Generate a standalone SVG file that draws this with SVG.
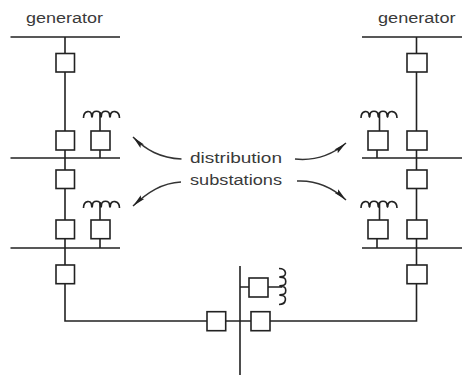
<svg xmlns="http://www.w3.org/2000/svg" width="462" height="375" viewBox="0 0 462 375">
<style>
.l{fill:none;stroke:#222;stroke-width:1.6}
.b{fill:#fff;stroke:#222;stroke-width:1.6}
.c{fill:none;stroke:#222;stroke-width:1.6}
.a{fill:none;stroke:#333;stroke-width:1.5}
text{font-family:"Liberation Sans",Arial,sans-serif;font-size:15.500px;fill:#3a3a3a;text-anchor:start}
</style>
<defs>
<marker id="h" markerUnits="userSpaceOnUse" markerWidth="15" markerHeight="10" refX="13" refY="5" orient="auto"><path d="M0 2.500L13 5L0 7.500L2 5Z" fill="#222"/></marker>
<path id="coil" d="M0 8C0 0 8 0 8 5C8 8 9 8 9 5C9 0 17 0 17 5C17 8 18 8 18 5C18 0 26 0 26 5C26 8 27 8 27 5C27 0 36 0 36 8"/>
</defs>
<g id="connectors">
<path class="l" d="M10.500 37H120M65 37V170M65 188V265M10.500 158H120M10.500 248H120M100 112V131M100 150V158M100 202V220M100 238.700V248M65 283.700V321H207M225.700 321H251M270 321H416.500V283.700M416.500 265V37M362 37H462M362 158H462M362 248H462M379.500 112V131M377 150V158M379.500 202V220M377 238.700V248M240 266V375M240 287H249M268 287H282"/>
<path class="a" marker-end="url(#h)" d="M181.500 159C160 158 146 150 133 137"/>
<path class="a" marker-end="url(#h)" d="M181 182C162 183 148 192 133 206"/>
<path class="a" marker-end="url(#h)" d="M295 159C315 161 332 155 346 143"/>
<path class="a" marker-end="url(#h)" d="M297 181C316 180 332 187 346 200"/>
</g>
<g id="gen-left"><text x="26" y="23.300" textLength="77" lengthAdjust="spacingAndGlyphs">generator</text></g>
<g id="gen-right"><text x="378" y="23.300" textLength="77.500" lengthAdjust="spacingAndGlyphs">generator</text></g>
<g id="label"><text x="190" y="163" textLength="92" lengthAdjust="spacingAndGlyphs">distribution</text><text x="190" y="185" textLength="92" lengthAdjust="spacingAndGlyphs">substations</text></g>
<g id="b1"><rect class="b" x="56" y="53.500" width="18.500" height="18.500"/></g>
<g id="b2"><rect class="b" x="56" y="131" width="18.500" height="19"/></g>
<g id="b3"><rect class="b" x="91" y="131" width="19" height="19"/></g>
<g id="b4"><rect class="b" x="56" y="170" width="18.500" height="18.500"/></g>
<g id="b5"><rect class="b" x="56" y="220" width="18.500" height="18.700"/></g>
<g id="b6"><rect class="b" x="91" y="220" width="19" height="18.700"/></g>
<g id="b7"><rect class="b" x="56" y="265" width="18.500" height="18.700"/></g>
<g id="b8"><rect class="b" x="207" y="311.700" width="18.700" height="19"/></g>
<g id="b9"><rect class="b" x="251" y="311.700" width="19" height="19"/></g>
<g id="b10"><rect class="b" x="249" y="278" width="19" height="19"/></g>
<g id="b11"><rect class="b" x="407" y="53.500" width="20" height="18.500"/></g>
<g id="b12"><rect class="b" x="407" y="131" width="20" height="19"/></g>
<g id="b13"><rect class="b" x="368" y="131" width="20" height="19"/></g>
<g id="b14"><rect class="b" x="407" y="170" width="20" height="18.500"/></g>
<g id="b15"><rect class="b" x="407" y="220" width="20" height="18.700"/></g>
<g id="b16"><rect class="b" x="368" y="220" width="20" height="18.700"/></g>
<g id="b17"><rect class="b" x="407" y="265" width="20" height="18.700"/></g>
<g id="coil1"><use href="#coil" class="c" x="83.500" y="110"/></g>
<g id="coil2"><use href="#coil" class="c" x="83.500" y="200"/></g>
<g id="coil3"><use href="#coil" class="c" x="361" y="110"/></g>
<g id="coil4"><use href="#coil" class="c" x="361" y="200"/></g>
<g id="coil5"><use href="#coil" class="c" transform="translate(287 268.500) rotate(90)"/></g>
</svg>
